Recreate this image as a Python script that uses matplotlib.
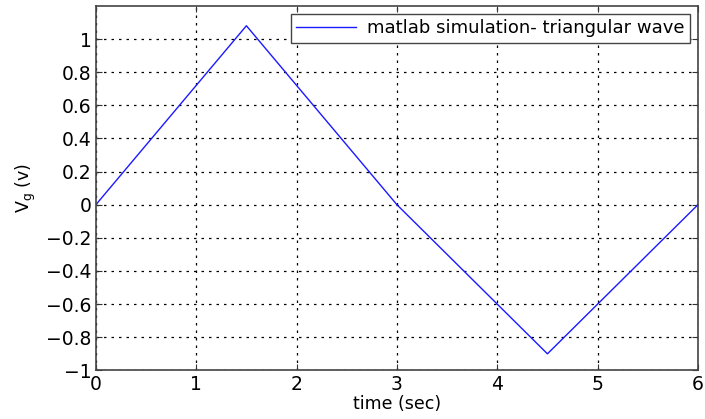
import matplotlib
matplotlib.use('Agg')
import matplotlib.pyplot as plt

t = [0, 1.5, 3, 4.5, 6]
vg = [0, 1.08, 0, -0.9, 0]
xticks = [0, 1, 2, 3, 4, 5, 6]
yticks = [-1, -0.8, -0.6, -0.4, -0.2, 0, 0.2, 0.4, 0.6, 0.8, 1]
ytick_labels = ['\u22121', '\u22120.8', '\u22120.6', '\u22120.4', '\u22120.2', '0',
                '0.2', '0.4', '0.6', '0.8', '1']

plt.rcParams['font.family'] = 'DejaVu Sans'

fig = plt.figure(figsize=(7.05, 4.19), dpi=100)
ax = fig.add_axes([0.136, 0.116, 0.854, 0.870])

ax.plot(t, vg, color='#1a1aff', linewidth=1.0, label='matlab simulation- triangular wave')

ax.set_xlim(0, 6)
ax.set_ylim(-1, 1.2)
ax.set_xticks(xticks)
ax.set_yticks(yticks)
ax.set_yticklabels(ytick_labels)
ax.tick_params(direction='in', top=True, right=True, labelsize=13.5, length=4,
               color='#333333', pad=3)
ax.grid(True, color='black', linestyle=(0, (2, 4)), linewidth=0.9)
for s in ax.spines.values():
    s.set_color('#444444')
    s.set_linewidth(1.2)

ax.set_xlabel('time (sec)', fontsize=12.5, labelpad=1)
ax.set_ylabel('V$_\\mathregular{g}$ (v)', fontsize=12.5, labelpad=6)

leg = ax.legend(loc='upper right', fontsize=13, fancybox=False, framealpha=1,
                edgecolor='#444444', borderaxespad=0.45, handlelength=3.3,
                borderpad=0.3, handletextpad=0.6)
leg.get_frame().set_linewidth(1.0)

fig.savefig('out.png', dpi=100)
